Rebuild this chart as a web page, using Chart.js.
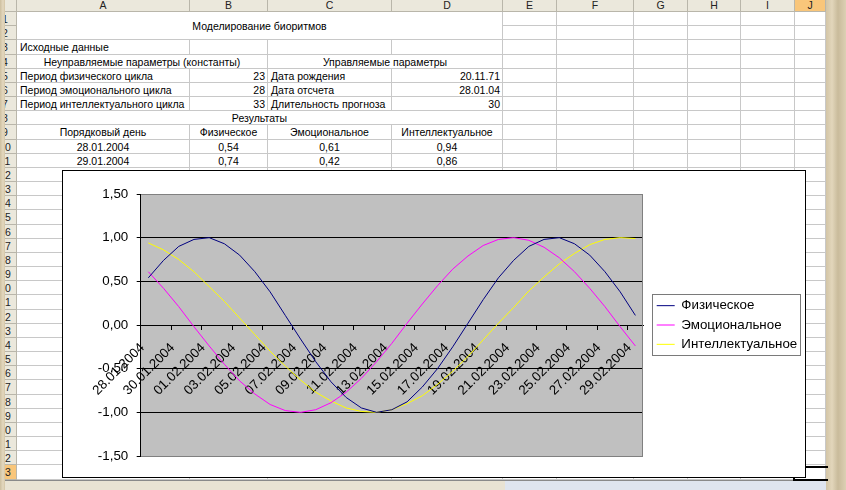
<!DOCTYPE html>
<html>
<head>
<meta charset="utf-8">
<script src="https://cdn.jsdelivr.net/npm/chart.js@4.4.0/dist/chart.umd.min.js"></script>
<style>
html,body{margin:0;padding:0;}
body{width:846px;height:490px;overflow:hidden;position:relative;
  font-family:'Liberation Sans',Arial,sans-serif;font-size:10.5px;color:#000;
  background:linear-gradient(90deg,#cdbf9f 0px,#e4d8bf 3px,#d3c5a6 5px,#d3c5a6 826px,#e2d6bb 832px,#c9bb9b 838px,#ddd0b4 846px);}
.c{position:absolute;box-sizing:border-box;background:#fff;border-right:1px solid #c8c8c8;border-bottom:1px solid #c8c8c8;white-space:nowrap;overflow:visible;}
.c span{position:absolute;top:0;bottom:0;display:flex;align-items:center;}
.h{position:absolute;box-sizing:border-box;background:#ebe8dc;border-right:1px solid #b9b6aa;border-bottom:1px solid #b9b6aa;overflow:hidden;font-size:10.5px;color:#222;}
.hc{text-align:center;line-height:10px;}
.sel{background:#f9c67a;}
#chartBox{position:absolute;left:62px;top:170px;width:744px;height:308px;box-sizing:border-box;border:1px solid #000;background:#fff;z-index:5;}
#chartBox canvas{display:block;}
#tabs{position:absolute;left:5px;top:480px;width:821px;height:10px;background:#e9e3d3;border-top:1px solid #8a8a8a;}
#tabs div{position:absolute;left:500px;top:0;width:321px;height:10px;background:#dfe5ef;}
#active{position:absolute;left:793px;top:466px;width:35px;height:15px;box-sizing:border-box;border:2px solid #000;border-right:none;z-index:2;}
</style>
</head>
<body>
<div id="sheet"></div>
<div id="active"></div>
<div id="tabs"><div></div></div>
<div id="chartBox"><canvas id="chart" width="742" height="306"></canvas></div>
<script>
// ---------- chart data ----------
const days = ['28.01.2004','29.01.2004','30.01.2004','31.01.2004','01.02.2004','02.02.2004','03.02.2004','04.02.2004',
  '05.02.2004','06.02.2004','07.02.2004','08.02.2004','09.02.2004','10.02.2004','11.02.2004','12.02.2004',
  '13.02.2004','14.02.2004','15.02.2004','16.02.2004','17.02.2004','18.02.2004','19.02.2004','20.02.2004',
  '21.02.2004','22.02.2004','23.02.2004','24.02.2004','25.02.2004','26.02.2004','27.02.2004','28.02.2004','29.02.2004'];
const physical = [0.54,0.74,0.90,0.98,1.00,0.93,0.80,0.61,0.38,0.11,-0.16,-0.42,-0.65,-0.83,-0.95,-1.00,
  -0.97,-0.88,-0.71,-0.50,-0.25,0.02,0.29,0.54,0.74,0.90,0.98,1.00,0.93,0.80,0.61,0.38,0.11];
const emotional = [0.61,0.42,0.21,-0.02,-0.24,-0.45,-0.64,-0.79,-0.91,-0.98,-1.00,-0.97,-0.89,-0.77,-0.61,-0.42,
  -0.21,0.02,0.24,0.45,0.64,0.79,0.91,0.98,1.00,0.97,0.89,0.77,0.61,0.42,0.21,-0.02,-0.24];
const intellectual = [0.94,0.86,0.75,0.61,0.44,0.27,0.08,-0.11,-0.30,-0.47,-0.63,-0.77,-0.87,-0.95,-0.99,-1.00,
  -0.97,-0.90,-0.81,-0.68,-0.53,-0.36,-0.17,0.02,0.20,0.39,0.55,0.70,0.82,0.92,0.98,1.00,0.99];
const seriesNames = ['Физическое','Эмоциональное','Интеллектуальное'];
const yTicks = [-1.5,-1.0,-0.5,0,0.5,1.0,1.5];

// ---------- spreadsheet backdrop ----------
const sheetText = [
  [1,2,0,3,'Моделирование биоритмов','center'],
  [3,3,0,0,'Исходные данные','left'],
  [4,4,0,1,'Неуправляемые параметры (константы)','center'],
  [4,4,2,3,'Управляемые параметры','center'],
  [5,5,0,0,'Период физического цикла','left'],
  [5,5,1,1,'23','right'],
  [5,5,2,2,'Дата рождения','left'],
  [5,5,3,3,'20.11.71','right'],
  [6,6,0,0,'Период эмоционального цикла','left'],
  [6,6,1,1,'28','right'],
  [6,6,2,2,'Дата отсчета','left'],
  [6,6,3,3,'28.01.04','right'],
  [7,7,0,0,'Период интеллектуального цикла','left'],
  [7,7,1,1,'33','right'],
  [7,7,2,2,'Длительность прогноза','left'],
  [7,7,3,3,'30','right'],
  [8,8,0,3,'Результаты','center'],
  [9,9,0,0,'Порядковый день','center'],
  [9,9,1,1,'Физическое','center'],
  [9,9,2,2,'Эмоциональное','center'],
  [9,9,3,3,'Интеллектуальное','center'],
  [10,10,0,0,'28.01.2004','center'],
  [10,10,1,1,'0,54','center'],
  [10,10,2,2,'0,61','center'],
  [10,10,3,3,'0,94','center'],
  [11,11,0,0,'29.01.2004','center'],
  [11,11,1,1,'0,74','center'],
  [11,11,2,2,'0,42','center'],
  [11,11,3,3,'0,86','center']
];
(function buildSheet(){
  const colX = [17,190,268,392,503,557,634,688,741,795,826];
  const letters = ['A','B','C','D','E','F','G','H','I','J'];
  const rowY = i => Math.round(12 + (i - 1) * 14.17);
  const sheet = document.getElementById('sheet');
  const add = (cls, l, t, w, h, html) => {
    const d = document.createElement('div');
    d.className = cls;
    d.style.left = l + 'px'; d.style.top = t + 'px'; d.style.width = w + 'px'; d.style.height = h + 'px';
    if (html !== undefined) d.innerHTML = html;
    sheet.appendChild(d); return d;
  };
  add('h', 5, 0, 12, 12);
  letters.forEach((L, i) => {
    add('h hc' + (L === 'J' ? ' sel' : ''), colX[i], 0, colX[i + 1] - colX[i], 12, L);
  });
  for (let r = 1; r <= 33; r++) {
    const t = rowY(r), h = rowY(r + 1) - t;
    const d = add('h' + (r === 33 ? ' sel' : ''), 5, t, 12, h);
    const s = document.createElement('span');
    s.textContent = r;
    s.style.cssText = 'position:absolute;left:-13px;width:26px;text-align:center;top:0;line-height:' + h + 'px;';
    d.appendChild(s);
  }
  const used = {};
  sheetText.forEach(([r1, r2, c1, c2, text, align, pad]) => {
    for (let r = r1; r <= r2; r++) for (let c = c1; c <= c2; c++) used[r + '_' + c] = true;
    const l = colX[c1], t = rowY(r1), w = colX[c2 + 1] - l, h = rowY(r2 + 1) - t;
    const d = add('c', l, t, w, h);
    const s = document.createElement('span');
    s.textContent = text;
    if (align === 'left') { s.style.left = (pad || 3) + 'px'; }
    else if (align === 'right') { s.style.right = '2px'; }
    else { s.style.left = '0'; s.style.right = '0'; s.style.justifyContent = 'center'; }
    d.appendChild(s);
  });
  for (let r = 1; r <= 33; r++) for (let c = 0; c < 10; c++) {
    if (used[r + '_' + c]) continue;
    const l = colX[c], t = rowY(r);
    add('c', l, t, colX[c + 1] - l, rowY(r + 1) - t);
  }
})();

// ---------- chart ----------
const FONT = {family: "'Liberation Sans', Arial, sans-serif", size: 13.33};
const LEGEND_W = 162;
const plotArea = {
  id: 'plotArea',
  beforeDraw(chart) {
    const {ctx, chartArea: a} = chart;
    ctx.save();
    ctx.fillStyle = '#c0c0c0';
    ctx.fillRect(a.left, a.top, a.right - a.left, a.bottom - a.top);
    ctx.restore();
  },
  beforeDatasetsDraw(chart) {
    const {ctx, chartArea: a} = chart;
    ctx.save();
    ctx.strokeStyle = '#808080';
    ctx.lineWidth = 1;
    ctx.beginPath();
    const x = Math.round(a.right) - 0.5;
    ctx.moveTo(x, a.top); ctx.lineTo(x, a.bottom);
    ctx.stroke();
    ctx.restore();
  }
};
const legendBox = {
  id: 'legendBox',
  afterInit(chart) {
    const lg = chart.legend;
    const fit = lg.fit.bind(lg);
    lg.fit = function () { fit(); this.width = LEGEND_W; };
  },
  afterLayout(chart) {
    const lg = chart.legend;
    lg.left += 7.7; lg.right += 7.7;
  },
  afterDraw(chart) {
    const lg = chart.legend, hb = lg.legendHitBoxes;
    if (!hb || !hb.length) return;
    const {ctx} = chart;
    const x0 = Math.round(lg.left + 1.3) + 0.5;
    const y0 = Math.round(hb[0].top - 5) + 0.5;
    const last = hb[hb.length - 1];
    const y1 = Math.round(last.top + last.height + 4) + 0.5;
    let x1 = 0;
    hb.forEach(b => { x1 = Math.max(x1, b.left + b.width); });
    x1 = Math.round(x1 + 3) + 0.5;
    ctx.save();
    ctx.strokeStyle = '#7a7a7a';
    ctx.lineWidth = 1;
    ctx.strokeRect(x0, y0, x1 - x0, y1 - y0);
    ctx.restore();
  }
};

new Chart(document.getElementById('chart'), {
  type: 'line',
  data: {
    labels: days,
    datasets: [
      {label: seriesNames[0], data: physical, borderColor: '#000080', backgroundColor: '#000080'},
      {label: seriesNames[1], data: emotional, borderColor: '#ff00ff', backgroundColor: '#ff00ff'},
      {label: seriesNames[2], data: intellectual, borderColor: '#ffff00', backgroundColor: '#ffff00'}
    ]
  },
  options: {
    responsive: false,
    animation: false,
    devicePixelRatio: 1,
    layout: {padding: {left: 0, right: 0, top: 23, bottom: 21}},
    elements: {
      line: {borderWidth: 1, tension: 0, fill: false},
      point: {radius: 0, hoverRadius: 0}
    },
    plugins: {
      legend: {
        position: 'right',
        align: 'center',
        labels: {
          usePointStyle: true,
          pointStyle: 'line',
          pointStyleWidth: 18,
          padding: 6,
          color: '#000',
          font: FONT
        }
      },
      tooltip: {enabled: false}
    },
    scales: {
      x: {
        type: 'category',
        offset: true,
        position: {y: 0},
        grid: {
          offset: true,
          drawOnChartArea: false,
          drawTicks: true,
          tickLength: 4,
          color: c => (c.index % 2 === 0 ? '#000' : 'rgba(0,0,0,0)')
        },
        border: {display: true, color: '#000', width: 1},
        ticks: {
          autoSkip: false,
          minRotation: 45,
          maxRotation: 45,
          padding: 11,
          labelOffset: -6,
          color: '#000',
          font: FONT,
          callback: function (v, i) { return i % 2 === 0 ? this.getLabelForValue(v) : ''; }
        }
      },
      y: {
        min: yTicks[0],
        max: yTicks[yTicks.length - 1],
        afterFit: s => { s.width = 77.7; },
        afterBuildTicks: s => { s.ticks = yTicks.map(v => ({value: v})); },
        grid: {
          color: c => (c.tick && Math.abs(Math.abs(c.tick.value) - 1.5) < 1e-6 ? '#808080' : '#000'),
          tickColor: '#000',
          drawTicks: true,
          tickLength: 4
        },
        border: {display: true, color: '#000', width: 1},
        ticks: {
          padding: 8.5,
          color: '#000',
          font: FONT,
          callback: v => v.toFixed(2).replace('.', ',')
        }
      }
    }
  },
  plugins: [plotArea, legendBox]
});
</script>
</body>
</html>
